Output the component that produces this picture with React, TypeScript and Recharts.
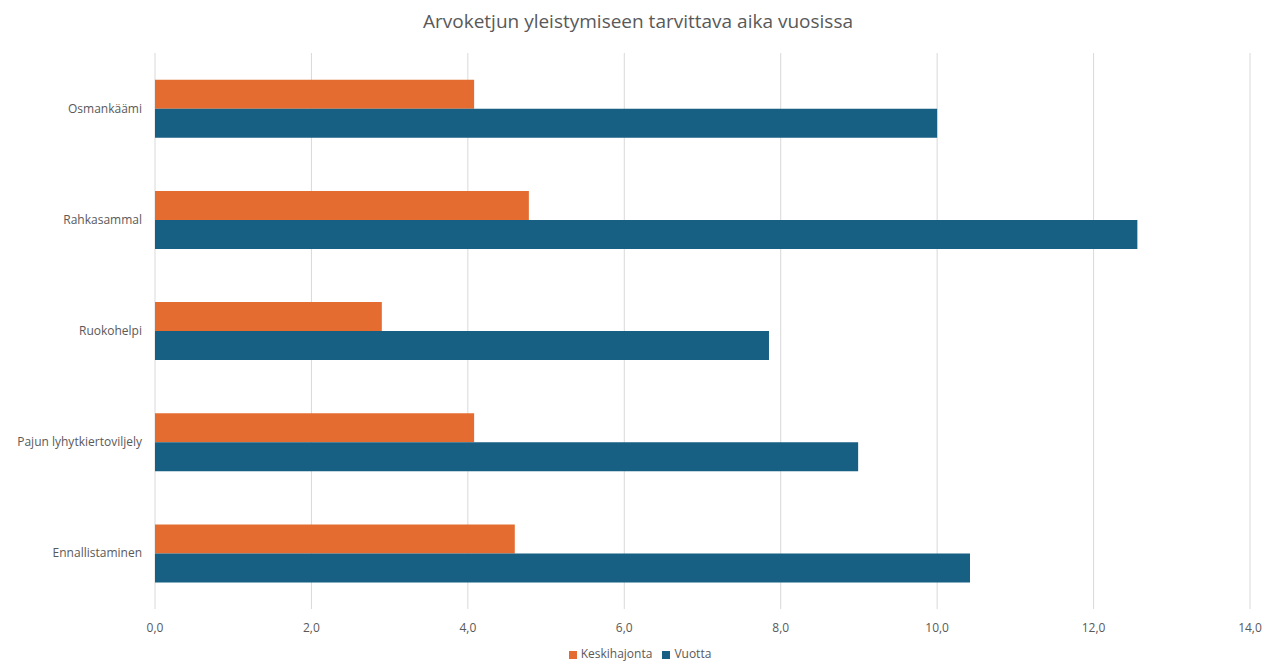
import { BarChart, Bar, XAxis, YAxis, CartesianGrid, Legend } from "recharts";

const categories = ["Osmankäämi", "Rahkasammal", "Ruokohelpi", "Pajun lyhytkiertoviljely", "Ennallistaminen"];
const keskihajonta = [4.08, 4.78, 2.9, 4.08, 4.6];
const vuotta = [10.0, 12.56, 7.85, 8.99, 10.42];
const xTicks = [0, 2, 4, 6, 8, 10, 12, 14];

const data = categories.map((name, i) => ({
  name,
  Keskihajonta: keskihajonta[i],
  Vuotta: vuotta[i],
}));

const font = "'Open Sans', 'Liberation Sans', sans-serif";

// y-axis label without wrapping
const CategoryTick = (props: any) => {
  const { x, y, payload } = props;
  return (
    <text x={x} y={y} dy={4} textAnchor="end" fontSize={12} fill="#595959" fontFamily={font}>
      {payload.value}
    </text>
  );
};

export default function App() {
  return (
    <div style={{ position: "fixed", top: 0, left: 0, width: 1266, height: 664, fontFamily: font, background: "#fff" }}>
      <div
        style={{
          position: "absolute",
          top: 8,
          left: 0,
          width: 1276,
          textAlign: "center",
          fontSize: 19,
          color: "#595959",
        }}
      >
        Arvoketjun yleistymiseen tarvittava aika vuosissa
      </div>
      <BarChart
        width={1266}
        height={664}
        data={data}
        layout="vertical"
        margin={{ top: 53, right: 16, left: 0, bottom: 8 }}
        barCategoryGap="24%"
        barGap={0}
      >
        <CartesianGrid horizontal={false} stroke="#d9d9d9" />
        <XAxis
          type="number"
          domain={[0, 14]}
          ticks={xTicks}
          tickFormatter={(v: number) => v.toFixed(1).replace(".", ",")}
          axisLine={false}
          tickLine={false}
          tickMargin={8}
          tick={{ fontSize: 12, fill: "#595959", fontFamily: font }}
        />
        <YAxis
          type="category"
          dataKey="name"
          width={155}
          axisLine={false}
          tickLine={false}
          tickMargin={7}
          tick={<CategoryTick />}
        />
        <Legend
          verticalAlign="bottom"
          iconType="square"
          iconSize={8}
          wrapperStyle={{ fontSize: 12, color: "#595959", bottom: 2, left: 20 }}
          formatter={(value: string) => <span style={{ color: "#595959" }}>{value}</span>}
        />
        <Bar dataKey="Keskihajonta" fill="#E46C31" isAnimationActive={false} />
        <Bar dataKey="Vuotta" fill="#175F83" isAnimationActive={false} />
      </BarChart>
    </div>
  );
}
